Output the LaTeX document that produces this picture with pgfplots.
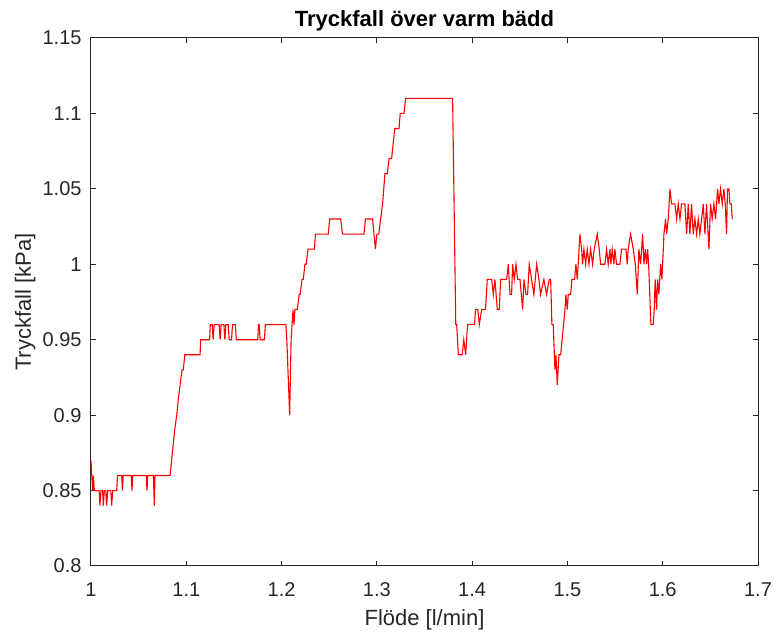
\documentclass[border=0pt]{standalone}
\usepackage{fontspec}
\setmainfont{Liberation Sans}
\usepackage{pgfplots}
\pgfplotsset{compat=1.18}
\definecolor{axgray}{HTML}{262626}

\begin{document}
\begin{tikzpicture}
\begin{axis}[
    name=ax,
    scale only axis,
    width=333.5pt, height=264pt,
    xmin=1, xmax=1.7, ymin=0.8, ymax=1.15,
    xtick={1,1.1,1.2,1.3,1.4,1.5,1.6,1.7},
    xticklabels={1,1.1,1.2,1.3,1.4,1.5,1.6,1.7},
    ytick={0.8,0.85,0.9,0.95,1,1.05,1.1,1.15},
    yticklabels={0.8,0.85,0.9,0.95,1,1.05,1.1,1.15},
    tick align=inside,
    major tick length=2.5pt,
    axis line style={draw=axgray, line width=0.5pt},
    every tick/.style={draw=axgray, line width=0.5pt},
    tick label style={font=\fontsize{10}{12}\selectfont, text=axgray},
    xticklabel style={anchor=base, yshift=-15.5pt},
    yticklabel style={xshift=-1.2pt},
    /pgf/number format/assume math mode=true,
    xlabel={Flöde [l/min]},
    ylabel={Tryckfall [kPa]},
    label style={font=\fontsize{11}{13}\selectfont, text=axgray},
    xlabel style={at={(axis description cs:0.5,-0.1136)}, anchor=base, yshift=0pt},
    ylabel style={at={(axis description cs:-0.09,0.5)}, anchor=base, xshift=0pt},
    title={Tryckfall över varm bädd},
    every axis title shift=0pt,
    title style={at={(axis description cs:0.5,1.0214)}, anchor=base, yshift=0pt,
                 font=\bfseries\fontsize{11}{13}\selectfont, text=black},
    clip=false,
]
\addplot[red, line width=0.55pt] coordinates {
(1.0000,0.87) (1.0008,0.86) (1.0018,0.85) (1.0025,0.86) (1.0035,0.85) (1.0085,0.85)
(1.0094,0.84) (1.0105,0.85) (1.0122,0.85) (1.0129,0.84) (1.0140,0.85) (1.0155,0.85)
(1.0164,0.84) (1.0175,0.85) (1.0208,0.85) (1.0217,0.84) (1.0228,0.85) (1.0270,0.85)
(1.0278,0.86) (1.0322,0.86) (1.0330,0.85) (1.0338,0.86) (1.0422,0.86) (1.0430,0.85)
(1.0438,0.86) (1.0580,0.86) (1.0588,0.85) (1.0596,0.86) (1.0655,0.86) (1.0664,0.84)
(1.0672,0.86) (1.0830,0.86) (1.0878,0.89) (1.0900,0.90) (1.0915,0.91) (1.0935,0.92)
(1.0955,0.93) (1.0968,0.93) (1.0985,0.94) (1.1145,0.94) (1.1150,0.95) (1.1245,0.95)
(1.1252,0.96) (1.1272,0.96) (1.1282,0.95) (1.1292,0.96) (1.1345,0.96) (1.1355,0.95)
(1.1365,0.96) (1.1395,0.96) (1.1405,0.95) (1.1415,0.96) (1.1440,0.96) (1.1450,0.95)
(1.1475,0.95) (1.1485,0.96) (1.1515,0.96) (1.1525,0.95) (1.1750,0.95) (1.1758,0.96)
(1.1765,0.96) (1.1775,0.95) (1.1820,0.95) (1.1830,0.96) (1.2045,0.96) (1.2055,0.95)
(1.2085,0.90) (1.2100,0.95) (1.2120,0.97) (1.2130,0.96) (1.2140,0.97) (1.2165,0.97)
(1.2185,0.98) (1.2195,0.98) (1.2215,0.99) (1.2228,0.99) (1.2245,1.00) (1.2258,1.00)
(1.2278,1.01) (1.2345,1.01) (1.2355,1.02) (1.2490,1.02) (1.2505,1.03) (1.2620,1.03)
(1.2640,1.02) (1.2865,1.02) (1.2880,1.03) (1.2955,1.03) (1.2985,1.01) (1.3000,1.02)
(1.3020,1.02) (1.3060,1.04) (1.3085,1.06) (1.3110,1.06) (1.3128,1.07) (1.3155,1.07)
(1.3188,1.09) (1.3233,1.09) (1.3245,1.10) (1.3285,1.10) (1.3302,1.11) (1.3795,1.11)
(1.3828,0.96) (1.3838,0.96) (1.3855,0.94) (1.3895,0.94) (1.3912,0.95) (1.3932,0.94)
(1.3952,0.96) (1.4025,0.96) (1.4035,0.97) (1.4060,0.97) (1.4075,0.96) (1.4100,0.97)
(1.4140,0.97) (1.4159,0.99) (1.4205,0.99) (1.4222,0.98) (1.4239,0.99) (1.4264,0.97)
(1.4285,0.97) (1.4299,0.99) (1.4362,0.99) (1.4379,1.00) (1.4397,0.98) (1.4414,0.98)
(1.4425,1.00) (1.4442,0.99) (1.4460,1.00) (1.4477,0.99) (1.4502,0.99) (1.4530,0.97)
(1.4544,0.99) (1.4565,0.98) (1.4582,0.98) (1.4599,1.00) (1.4624,0.99) (1.4648,0.98)
(1.4677,1.00) (1.4701,0.99) (1.4718,0.98) (1.4753,0.99) (1.4781,0.98) (1.4809,0.99)
(1.4824,0.99) (1.4837,0.96) (1.4851,0.96) (1.4869,0.93) (1.4879,0.94) (1.4887,0.93)
(1.4893,0.92) (1.4911,0.94) (1.4929,0.94) (1.4974,0.97) (1.4984,0.98) (1.4998,0.97)
(1.5009,0.98) (1.5034,0.98) (1.5047,0.99) (1.5075,0.99) (1.5089,1.00) (1.5103,0.99)
(1.5113,1.00) (1.5131,1.02) (1.5149,1.01) (1.5159,1.00) (1.5173,1.01) (1.5191,1.00)
(1.5208,1.01) (1.5226,1.00) (1.5243,1.01) (1.5264,1.00) (1.5281,1.01) (1.5313,1.02)
(1.5334,1.01) (1.5348,1.00) (1.5393,1.00) (1.5411,1.01) (1.5428,1.00) (1.5446,1.01)
(1.5456,1.00) (1.5470,1.01) (1.5488,1.00) (1.5498,1.01) (1.5516,1.00) (1.5551,1.00)
(1.5568,1.01) (1.5614,1.01) (1.5628,1.00) (1.5638,1.01) (1.5663,1.02) (1.5691,1.01)
(1.5712,1.00) (1.5733,0.98) (1.5750,1.01) (1.5768,1.00) (1.5789,1.02) (1.5803,1.00)
(1.5817,1.01) (1.5831,1.00) (1.5842,1.01) (1.5852,1.00) (1.5876,0.96) (1.5900,0.96)
(1.5911,0.97) (1.5921,0.99) (1.5936,0.97) (1.5946,0.99) (1.5960,0.98) (1.5978,1.00)
(1.5992,0.99) (1.6013,1.02) (1.6030,1.03) (1.6041,1.02) (1.6058,1.03) (1.6076,1.05)
(1.6093,1.04) (1.6128,1.04) (1.6146,1.03) (1.6163,1.04) (1.6181,1.03) (1.6198,1.04)
(1.6233,1.04) (1.6251,1.02) (1.6268,1.04) (1.6285,1.02) (1.6303,1.04) (1.6320,1.02)
(1.6338,1.03) (1.6356,1.02) (1.6373,1.03) (1.6390,1.02) (1.6408,1.03) (1.6425,1.04)
(1.6443,1.02) (1.6460,1.04) (1.6485,1.01) (1.6502,1.04) (1.6519,1.03) (1.6537,1.04)
(1.6555,1.03) (1.6576,1.05) (1.6590,1.04) (1.6607,1.05) (1.6625,1.04) (1.6642,1.05)
(1.6656,1.04) (1.6670,1.02) (1.6680,1.05) (1.6695,1.05) (1.6705,1.04) (1.6719,1.04)
(1.6730,1.03)
};
\coordinate (bbsw) at (rel axis cs:-0.13643,-0.12879);
\coordinate (bbne) at (rel axis cs:1.02699,1.07197);
\end{axis}
\pgfresetboundingbox
\useasboundingbox (bbsw) rectangle (bbne);
\end{tikzpicture}
\end{document}
